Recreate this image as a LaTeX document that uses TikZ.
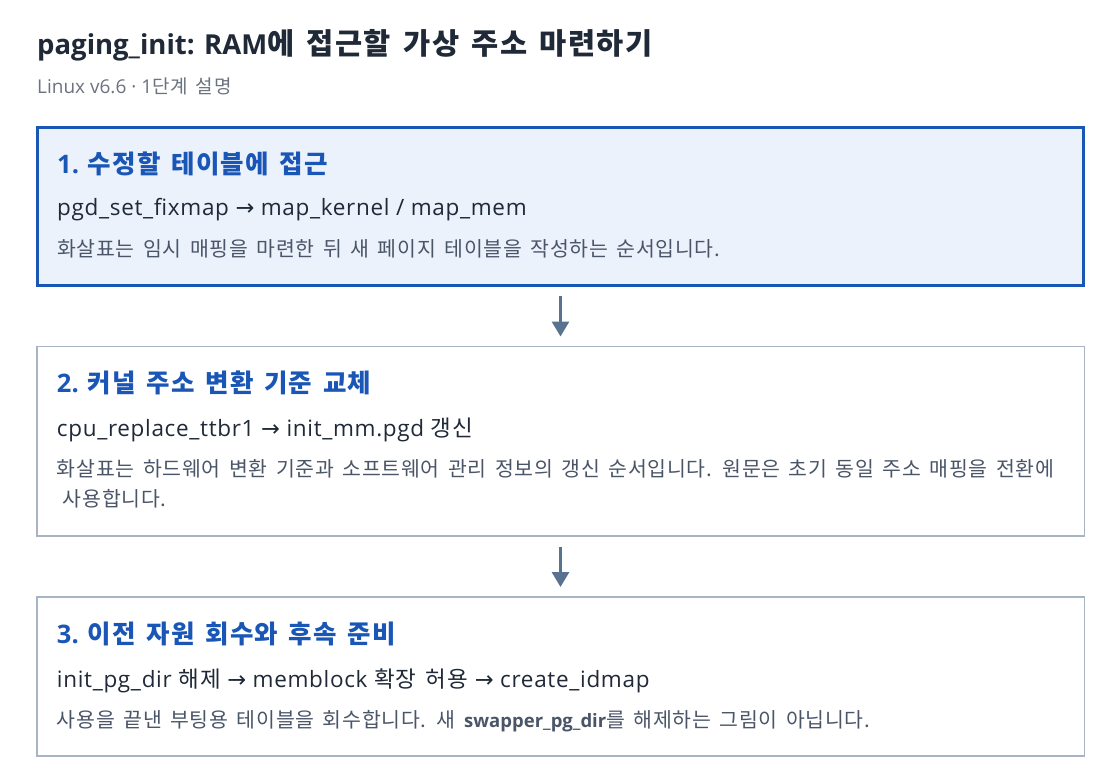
\documentclass[tikz,border=0pt]{standalone}
\usepackage{fontspec}
\setmainfont{Open Sans}
\newfontfamily\kr{Noto Sans CJK KR}[WordSpace=1.5, LetterSpace=5]
\newfontfamily\krnote{Noto Sans CJK KR}[WordSpace=1.6, LetterSpace=3.5]
\newfontfamily\symfont{DejaVu Sans}
\usetikzlibrary{arrows.meta,positioning}

\definecolor{titleink}{HTML}{1F2937}
\definecolor{subink}{HTML}{6B7280}
\definecolor{noteink}{HTML}{4A5568}
\definecolor{accentblue}{HTML}{1A56B6}
\definecolor{paleblue}{HTML}{EBF2FC}
\definecolor{cardgray}{HTML}{A9B4C3}
\definecolor{arrowslate}{HTML}{587290}

\newcommand{\rarr}{{\symfont →}}

\begin{document}
\begin{tikzpicture}[
    x=1pt, y=-1pt,
    node distance=61pt,
    card_node/.style={draw=cardgray, line width=1.5pt, fill=white, rectangle,
        minimum width=1047.5pt, outer sep=0pt, inner sep=0pt},
    card_active/.style={card_node, draw=accentblue, line width=3pt, fill=paleblue,
        minimum width=1046pt},
    title_text/.style={anchor=base west, inner sep=0pt, text=titleink,
        font=\fontsize{27.5pt}{32pt}\selectfont\bfseries},
    sub_text/.style={anchor=base west, inner sep=0pt, text=subink,
        font=\fontsize{19pt}{23pt}\selectfont},
    head_text/.style={anchor=base west, inner sep=0pt, text=accentblue,
        font=\fontsize{25.5pt}{30pt}\selectfont\bfseries},
    code_text/.style={anchor=base west, inner sep=0pt, text=titleink,
        font=\fontsize{22.5pt}{26pt}\selectfont\addfontfeatures{LetterSpace=3}},
    note_text/.style={anchor=base west, inner sep=0pt, text=noteink,
        font=\fontsize{20.5pt}{30pt}\selectfont\krnote},
    flow_edge/.style={-{Triangle[length=15pt, width=17pt]}, line width=3pt,
        color=arrowslate, shorten <=10.5pt, shorten >=10pt}
]

% --- CANVAS ---
\useasboundingbox (0,0) rectangle (1120,784);
\fill[white] (0,0) rectangle (1120,784);

% --- HEADER ---
\node[title_text] (title) at (37,55) {paging\_init: RAM{\kr\fontsize{29.5pt}{32pt}\selectfont 에 접근할 가상 주소 마련하기}};
\node[sub_text] (subtitle) at (37,94) {Linux v6.6 · 1{\kr 단계 설명}};

% --- CARDS ---
\node[card_active, minimum height=158pt, anchor=north west] (box1) at (37.5,127.5) {};
\node[card_node, minimum height=189.5pt, below=of box1] (box2) {};
\node[card_node, minimum height=159pt, below=of box2] (box3) {};

% Card 1: table access
\node[head_text] (head1) at ([shift={(19.5,45.5)}]box1.north west) {1. {\kr 수정할 테이블에 접근}};
\node[code_text] (code1) at ([shift={(19.5,87.5)}]box1.north west) {pgd\_set\_fixmap \rarr{} map\_kernel / map\_mem};
\node[note_text] (note1) at ([shift={(19.5,128.5)}]box1.north west) {화살표는 임시 매핑을 마련한 뒤 새 페이지 테이블을 작성하는 순서입니다.};

% Card 2: kernel translation base
\node[head_text] (head2) at ([shift={(20,46)}]box2.north west) {2. {\kr 커널 주소 변환 기준 교체}};
\node[code_text] (code2) at ([shift={(20,90)}]box2.north west) {cpu\_replace\_ttbr1 \rarr{} init\_mm.pgd {\kr 갱신}};
\node[note_text] (note2a) at ([shift={(20,130)}]box2.north west) {화살표는 하드웨어 변환 기준과 소프트웨어 관리 정보의 갱신 순서입니다. 원문은 초기 동일 주소 매핑을 전환에};
\node[note_text] (note2b) at ([shift={(26,160)}]box2.north west) {사용합니다.};

% Card 3: reclaim and follow-up
\node[head_text] (head3) at ([shift={(20,46)}]box3.north west) {3. {\kr 이전 자원 회수와 후속 준비}};
\node[code_text] (code3) at ([shift={(20,90)}]box3.north west) {init\_pg\_dir {\kr 해제} \rarr{} memblock {\kr 확장 허용} \rarr{} create\_idmap};
\node[note_text] (note3) at ([shift={(20,130)}]box3.north west) {사용을 끝낸 부팅용 테이블을 회수합니다. 새 {\normalfont\fontsize{18.5pt}{22pt}\selectfont\bfseries swapper\_pg\_dir}를 해제하는 그림이 아닙니다.};

% --- EDGES ---
\draw[flow_edge] (box1.south) -- (box2.north);
\draw[flow_edge] (box2.south) -- (box3.north);

\end{tikzpicture}
\end{document}
